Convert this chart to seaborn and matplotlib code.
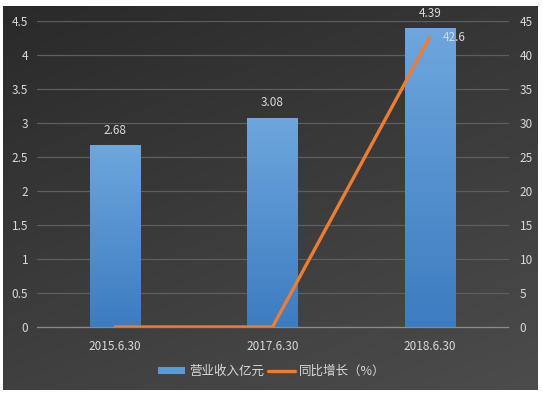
import numpy as np
import pandas as pd
import matplotlib
matplotlib.use("Agg")
import matplotlib.pyplot as plt
import seaborn as sns
from matplotlib.patches import Patch
from matplotlib.lines import Line2D

categories = ["2015.6.30", "2017.6.30", "2018.6.30"]
revenue = [2.68, 3.08, 4.39]
growth = [0, 0, 42.6]
left_ticks = [0, 0.5, 1, 1.5, 2, 2.5, 3, 3.5, 4, 4.5]
right_ticks = [0, 5, 10, 15, 20, 25, 30, 35, 40, 45]
bar_label = "营业收入亿元"
line_label = "同比增长（%）"

sns.set_theme(style="white")
plt.rcParams['font.family'] = ['Noto Sans CJK SC', 'DejaVu Sans']

W, H = 543, 394
fig = plt.figure(figsize=(W / 100, H / 100), dpi=100, facecolor="white")

# dark gradient background panel
bg = fig.add_axes([3 / W, 4 / H, 535 / W, 384 / H])
bg.set_axis_off()
yy, xx = np.mgrid[0:1:200j, 0:1:200j]
grad = 0.35 * xx + 0.65 * yy
c0 = np.array([0x2a, 0x2a, 0x2a]) / 255
c1 = np.array([0x4c, 0x4c, 0x4c]) / 255
img = c0[None, None, :] + (c1 - c0)[None, None, :] * grad[:, :, None]
bg.imshow(img, aspect="auto", extent=[0, 1, 0, 1], origin="upper")
bg.set_xlim(0, 1)
bg.set_ylim(0, 1)

ax = fig.add_axes([36.5 / W, 67 / H, 472 / W, 306 / H])
ax.patch.set_alpha(0)

df = pd.DataFrame({"cat": categories, "rev": revenue})
sns.barplot(data=df, x="cat", y="rev", ax=ax, color="#5b9bd5", width=0.32,
            saturation=1, linewidth=0, edgecolor="none", zorder=2)
ax.set_ylim(0, 4.5)
ax.set_yticks(left_ticks)
ax.set_yticklabels([f"{t:g}" for t in left_ticks])
ax.set_xlim(-0.5, 2.5)
ax.set_xlabel("")
ax.set_ylabel("")
ax.grid(axis="y", color="#5e5e5e", linewidth=0.9, zorder=0)
ax.set_axisbelow(True)
for s in ["top", "right", "left"]:
    ax.spines[s].set_visible(False)
ax.spines["bottom"].set_color("#8a8a8a")
ax.spines["bottom"].set_linewidth(0.9)
ax.set_xticks([0, 1, 2])
ax.set_xticklabels(categories)
ax.tick_params(axis="both", colors="#d9d9d9", labelsize=8.5, length=0, pad=6)
ax.tick_params(axis="x", pad=9)
ax.set_xticks([0.5, 1.5], minor=True)
ax.tick_params(axis="x", which="minor", length=5, color="#8a8a8a", direction="out")

# gradient fill of bars
grad_cmap = matplotlib.colors.LinearSegmentedColormap.from_list(
    "bluegrad", ["#3c7cc0", "#6ea6de"])
for p in ax.patches:
    p.set_edgecolor("none")
    p.set_linewidth(0)
    x0, y0 = p.get_x(), p.get_y()
    w, h = p.get_width(), p.get_height()
    gimg = np.linspace(0, 1, 100).reshape(-1, 1)
    im = ax.imshow(gimg, cmap=grad_cmap, origin="lower", aspect="auto",
                   extent=[x0, x0 + w, y0, y0 + h], zorder=2.5)
    im.set_clip_path(p)
ax.set_xlim(-0.5, 2.5)
ax.set_ylim(0, 4.5)

for i, v in enumerate(revenue):
    ax.text(i, v + 0.12, f"{v:g}", ha="center", va="bottom", color="#d9d9d9",
            fontsize=8.5)

ax2 = ax.twinx()
sns.lineplot(x=[0, 1, 2], y=growth, ax=ax2, color="#ed7d31", linewidth=2.4,
             zorder=4)
ax2.set_ylim(0, 45)
ax2.set_yticks(right_ticks)
ax2.set_yticklabels([f"{t:g}" for t in right_ticks])
ax2.set_ylabel("")
for s in ax2.spines.values():
    s.set_visible(False)
ax2.tick_params(axis="y", colors="#d9d9d9", labelsize=8.5, length=0, pad=8)
ax2.text(2 + 0.08, growth[2], f"{growth[2]:g}", ha="left", va="center",
         color="#d9d9d9", fontsize=8.5)
ax2.set_xlim(-0.5, 2.5)

handles = [Patch(facecolor="#5b9bd5", edgecolor="none"),
           Line2D([0], [0], color="#ed7d31", linewidth=2.4)]
leg = fig.legend(handles, [bar_label, line_label], loc="center",
                 bbox_to_anchor=(0.5, 23 / H), ncol=2, frameon=False,
                 fontsize=9, handlelength=2.2, handleheight=0.5,
                 columnspacing=0.3, handletextpad=0.3)
for t in leg.get_texts():
    t.set_color("#d9d9d9")

fig.savefig("out.png", dpi=100, facecolor="white")
